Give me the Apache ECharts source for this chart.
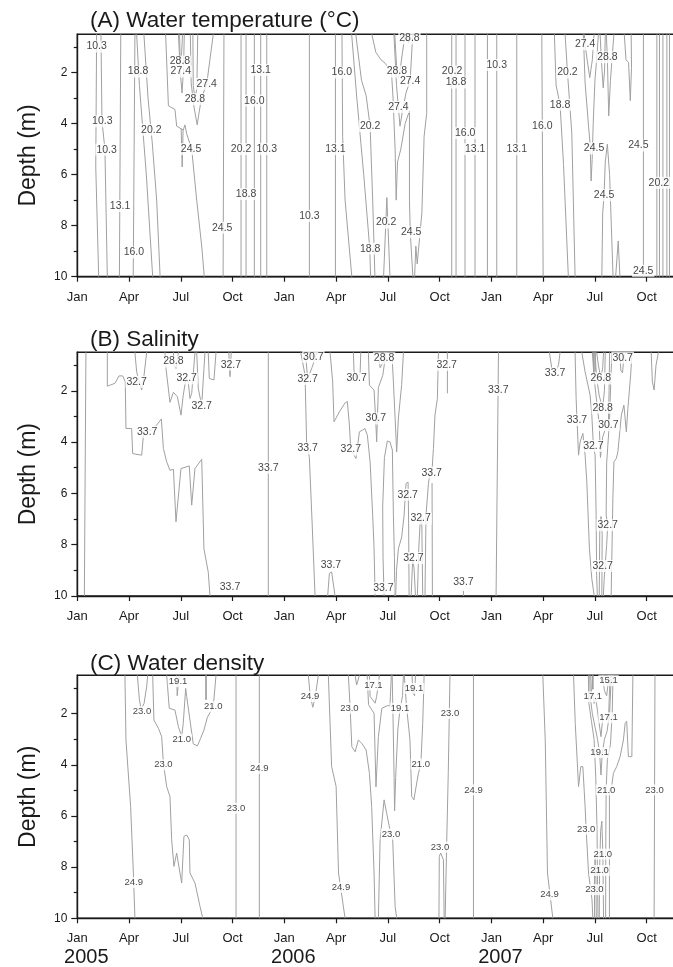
<!DOCTYPE html>
<html>
<head>
<meta charset="utf-8">
<title>Water temperature, salinity and density</title>
<script src="https://cdn.jsdelivr.net/npm/echarts@6/dist/echarts.min.js"></script>
<style>
html, body {margin: 0; padding: 0; background: #fff;}
#chart {width: 673px; height: 967px;}
</style>
</head>
<body>
<div id="chart"></div>
<script>
// x = months since Jan 2005, y = depth (m)
var monthTicks = [0, 3, 6, 9, 12, 15, 18, 21, 24, 27, 30, 33];
var monthNames = ['Jan', 'Apr', 'Jul', 'Oct'];
var depthMajor = [2, 4, 6, 8, 10];
var depthMinor = [1, 3, 5, 7, 9];
var yearTicks = [0, 12, 24];
var years = ['2005', '2006', '2007'];
var panelTitles = ['(A) Water temperature (°C)', '(B) Salinity', '(C) Water density'];

//(A) contour lines, each one a list of [month, depth]
var tempLines = [
    [[1.12,0.5],[1.07,5.7],[1.24,10]],
    [[1.37,0.5],[1.43,3.9],[1.6,5.0],[1.74,10]],
    [[2.52,0.5],[2.44,10]],
    [[3.34,0.5],[3.24,10]],
    [[3.44,0.5],[3.6,2.5],[4.0,6.0],[4.37,10]],
    [[3.86,0.5],[4.1,3.0],[4.35,4.8],[4.6,7.0],[4.8,10]],
    [[5.12,0.5],[5.28,3.3],[5.66,3.45],[5.76,4.1],[6.14,4.25],[6.24,4.05],[6.34,4.4],[6.63,5.0],[6.92,7.0],[7.21,8.8],[7.36,10]],
    [[6.02,4.2],[6.08,5.7],[6.13,4.25]],
    [[5.86,0.5],[5.97,2.0],[6.07,2.8],[6.16,1.8],[6.2,0.5]],
    [[5.93,0.5],[5.96,1.6],[6.05,1.2],[6.1,0.5]],
    [[6.55,0.5],[6.6,2.4],[6.75,3.3],[6.95,4.05],[7.05,3.6],[7.2,3.0],[7.5,2.45],[7.88,0.5]],
    [[6.7,0.5],[6.72,2.5],[6.82,3.05],[6.93,2.6],[6.98,0.5]],
    [[8.5,0.5],[8.45,10]],
    [[9.49,0.5],[9.49,10]],
    [[9.78,0.5],[9.78,10]],
    [[10.26,0.5],[10.26,10]],
    [[10.63,0.5],[10.63,10]],
    [[10.98,0.5],[10.98,10]],
    [[13.45,0.5],[13.45,10]],
    [[14.96,0.5],[14.96,10]],
    [[15.34,0.5],[15.38,4.5],[15.52,7.0],[15.91,10]],
    [[15.9,0.5],[16.2,3.0],[16.6,6.0],[16.95,8.9],[17.0,10]],
    [[16.14,0.5],[16.47,2.3],[16.74,2.9],[16.97,4.1],[17.12,7.0],[17.25,10]],
    [[17.75,10],[17.88,7.9],[17.94,6.9],[18.0,7.9],[18.12,10]],
    [[17.07,0.5],[17.3,1.2],[17.6,1.5],[17.84,1.63],[17.95,1.75],[18.2,1.9],[18.3,3.0],[18.42,5.0],[18.48,7.0],[18.56,5.5],[18.75,5.0],[19.0,4.0],[19.25,3.5],[19.25,7.0],[19.3,8.3],[19.45,10]],
    [[18.35,0.5],[18.5,2.5],[18.61,3.35],[18.7,4.1],[18.85,3.5],[19.05,2.8],[19.29,2.32],[19.4,1.0],[19.45,0.5]],
    [[18.4,0.5],[18.52,1.96],[18.65,2.2],[18.85,1.2],[19.0,0.5]],
    [[19.12,0.5],[19.2,0.85],[19.3,0.5]],
    [[19.55,10],[19.62,8.8],[19.7,9.5],[19.97,7.5],[20.1,4.5],[20.25,3.6],[20.25,0.5]],
    [[21.7,0.5],[21.7,10]],
    [[21.95,0.5],[21.95,10]],
    [[22.47,0.5],[22.47,10]],
    [[23.05,0.5],[23.05,10]],
    [[23.77,0.5],[23.77,10]],
    [[24.31,0.5],[24.31,10]],
    [[25.47,0.5],[25.47,10]],
    [[26.92,0.5],[27.0,10]],
    [[27.65,0.5],[27.75,2.5],[27.98,3.26],[28.18,5.6],[28.46,10]],
    [[28.27,0.5],[28.41,2.0],[28.66,4.37],[28.85,10]],
    [[29.33,0.5],[29.43,2.4],[29.63,4.1],[29.72,4.8],[29.78,6.25],[29.84,5.4],[29.9,4.0],[30.0,2.3],[30.1,1.5],[30.2,0.5]],
    [[29.38,0.5],[29.43,0.9],[29.55,1.5],[29.7,2.2],[29.85,1.5],[29.95,0.5]],
    [[30.3,0.5],[30.38,1.6],[30.48,2.6],[30.56,1.9],[30.6,0.5]],
    [[30.66,0.5],[30.72,1.4],[30.8,3.7],[30.9,2.3],[31.02,1.2],[31.1,0.5]],
    [[31.7,0.5],[31.8,1.5],[31.95,1.6],[32.05,3.1],[32.12,1.8],[32.1,0.5]],
    [[30.4,10],[30.45,7.5],[30.53,6.8],[30.6,5.5],[30.72,4.8],[30.85,6.0],[30.95,8.0],[31.05,10]],
    [[31.2,10],[31.35,8.6],[31.45,10]],
    [[32.81,0.5],[32.81,10]],
    [[33.59,0.5],[33.59,10]],
    [[33.74,0.5],[33.74,10]],
    [[33.94,0.5],[33.94,10]],
    [[34.17,0.5],[34.17,10]],
    [[34.32,0.5],[34.32,10]]
];
var tempLabels = [
    [1.12,0.98,'10.3'],[1.45,3.91,'10.3'],[1.7,5.02,'10.3'],[2.48,7.23,'13.1'],[3.28,9.05,'16.0'],[3.52,1.96,'18.8'],[4.29,4.24,'20.2'],
    [5.95,1.57,'28.8'],[6.0,1.96,'27.4'],[7.5,2.44,'27.4'],[6.82,3.04,'28.8'],[6.59,5.0,'24.5'],[8.4,8.08,'24.5'],
    [9.49,5.0,'20.2'],[9.78,6.76,'18.8'],[10.26,3.1,'16.0'],[10.63,1.9,'13.1'],[10.98,5.0,'10.3'],
    [13.45,7.62,'10.3'],[14.96,5.0,'13.1'],[15.33,2.0,'16.0'],[16.97,4.1,'20.2'],[16.97,8.9,'18.8'],[17.9,7.88,'20.2'],
    [18.52,1.96,'28.8'],[19.29,2.32,'27.4'],[18.61,3.35,'27.4'],[19.25,0.66,'28.8'],[19.35,8.26,'24.5'],
    [21.72,1.96,'20.2'],[21.95,2.39,'18.8'],[22.48,4.37,'16.0'],[23.06,5.0,'13.1'],[24.31,1.7,'10.3'],[25.47,5.0,'13.1'],
    [26.95,4.08,'16.0'],[27.98,3.26,'18.8'],[28.41,2.0,'20.2'],
    [29.43,0.89,'27.4'],[30.72,1.4,'28.8'],[29.95,4.97,'24.5'],[30.53,6.81,'24.5'],[32.52,4.86,'24.5'],[33.7,6.32,'20.2'],[32.8,9.77,'24.5']
];

//(B) salinity contours
var salLines = [
    [[0.5,0.5],[0.41,10]],
    [[1.74,0.5],[1.74,1.82],[2.18,1.71],[2.42,1.42],[2.63,1.42],[2.78,1.65],[2.82,3.47],[3.15,3.47],[3.21,4.45],[3.73,4.51],[3.86,3.53],[4.31,3.53],[4.6,3.34],[4.87,3.1],[4.99,4.25],[5.18,4.77],[5.37,5.1],[5.57,5.06],[5.72,7.11],[6.01,5.03],[6.49,4.93],[6.63,6.46],[6.82,5.03],[7.21,4.67],[7.34,8.16],[7.59,9.07],[7.69,10]],
    [[3.34,0.5],[3.44,1.26],[3.73,1.97],[3.86,1.45],[4.02,0.5]],
    [[5.08,0.5],[5.14,1.13],[5.37,2.45],[5.57,2.06],[5.8,2.23],[6.01,2.95],[6.14,2.17],[6.3,1.52],[6.43,1.65],[6.53,2.3],[6.63,2.1],[6.82,0.5]],
    [[5.57,0.5],[5.6,1.0],[5.72,1.13],[5.86,0.5]],
    [[6.92,0.5],[7.01,1.9],[7.21,2.58],[7.34,1.13],[7.4,0.5]],
    [[7.59,0.5],[7.65,1.52],[7.92,1.58],[8.04,0.5]],
    [[8.78,0.5],[8.85,1.45],[8.92,0.5]],
    [[11.07,0.5],[11.07,10]],
    [[12.95,0.5],[13.2,1.39],[13.29,4.0],[13.45,4.6],[13.6,7.0],[13.78,10]],
    [[13.22,0.5],[13.35,1.54],[13.6,1.1],[13.9,0.5]],
    [[13.55,0.5],[13.68,0.75],[13.8,0.5]],
    [[14.51,10],[14.61,9.12],[14.74,9.06],[14.94,10]],
    [[14.65,0.5],[14.8,1.65],[14.88,3.21],[15.19,2.82],[15.52,2.47],[15.65,2.42],[15.77,3.34],[15.85,4.29],[16.15,4.64],[16.35,3.6],[16.54,3.53],[16.67,3.47],[16.81,3.73],[16.97,4.77],[17.12,6.85],[17.2,8.15],[17.26,10]],
    [[16.0,0.5],[16.04,1.25],[16.19,1.58],[16.39,1.32],[16.43,0.5]],
    [[16.87,0.5],[16.93,1.78],[17.2,1.97],[17.29,3.08],[17.35,3.99],[17.45,1.87],[17.7,1.41],[17.9,0.5]],
    [[17.45,0.5],[17.55,1.1],[17.72,0.9],[17.82,0.5]],
    [[17.78,10],[17.72,8.5],[17.7,6.5],[17.8,4.6],[17.97,3.96],[18.12,3.99],[18.26,4.31],[18.32,6.85],[18.38,8.5],[18.4,10]],
    [[18.23,0.5],[18.32,1.65],[18.51,4.38],[18.61,3.06],[18.8,1.76],[18.9,0.5]],
    [[18.45,10],[18.5,9.0],[18.61,8.16],[18.8,7.7],[18.94,6.85],[19.05,5.62],[19.17,5.56],[19.2,7.0],[19.23,10]],
    [[19.35,10],[19.44,8.52],[19.52,8.94],[19.6,10]],
    [[19.71,10],[19.79,8.16],[19.87,7.11],[19.96,6.85],[20.02,10]],
    [[20.15,10],[20.21,6.85],[20.35,5.62],[20.45,5.16],[20.54,5.29],[20.64,4.25],[20.73,2.95],[20.87,2.3],[20.93,0.5]],
    [[20.56,5.6],[20.58,10]],
    [[21.45,0.5],[21.45,2.1]],
    [[22.38,9.8],[22.38,10]],
    [[24.41,0.5],[24.27,10]],
    [[27.36,0.5],[27.5,1.13],[27.69,1.32],[27.89,0.99],[27.98,0.5]],
    [[28.85,0.5],[28.91,2.3],[28.95,2.95],[29.05,4.51],[29.14,4.0],[29.3,3.66],[29.43,4.51],[29.53,5.55],[29.68,8.16],[29.82,9.33],[29.96,10]],
    [[29.24,0.5],[29.43,1.26],[29.72,2.17],[29.82,2.95],[29.91,4.15],[30.01,4.51],[30.07,6.85],[30.1,9.2],[30.14,10]],
    [[30.49,10],[30.53,9.4],[30.68,8.0],[30.74,7.24],[30.65,6.85],[30.68,4.82],[30.84,3.21],[30.88,2.43],[30.98,0.5]],
    [[30.25,10],[30.28,7.5],[30.35,6.9],[30.42,7.6],[30.4,10]],
    [[29.85,0.5],[29.95,1.5],[30.1,2.4],[30.25,3.3],[30.32,4.6],[30.45,3.8],[30.6,3.5],[30.78,3.34],[30.82,2.0],[30.85,0.5]],
    [[30.0,0.5],[30.1,1.5],[30.25,2.2],[30.45,2.66],[30.55,2.0],[30.6,0.5]],
    [[30.1,0.5],[30.2,1.0],[30.34,1.52],[30.45,1.1],[30.5,0.5]],
    [[29.92,0.5],[29.92,1.3]],
    [[29.96,0.5],[29.96,1.3]],
    [[30.02,0.5],[30.02,1.25]],
    [[30.94,10],[31.04,6.2],[31.1,4.77],[31.24,4.64],[31.33,4.38],[31.53,2.95],[31.68,2.56],[31.82,3.6],[31.91,2.69],[32.07,1.39],[32.15,0.5]],
    [[31.45,0.5],[31.5,1.2],[31.6,1.3],[31.7,0.5]],
    [[33.26,0.5],[33.33,1.65],[33.43,1.97],[33.54,1.0],[33.68,0.5]]
];
var salLabels = [
    [3.44,1.65,'32.7'],[4.05,3.6,'33.7'],[5.57,0.86,'28.8'],[6.34,1.52,'32.7'],[7.21,2.58,'32.7'],[8.9,0.98,'32.7'],[8.85,9.65,'33.7'],
    [11.07,5.0,'33.7'],[13.68,0.67,'30.7'],[13.35,1.54,'32.7'],[13.35,4.25,'33.7'],[14.7,8.8,'33.7'],[15.85,4.29,'32.7'],
    [16.19,1.52,'30.7'],[17.78,0.73,'28.8'],[17.3,3.08,'30.7'],[17.74,9.69,'33.7'],[19.15,6.05,'32.7'],[19.9,6.98,'32.7'],
    [19.48,8.52,'32.7'],[20.54,5.19,'33.7'],[21.41,0.99,'32.7'],
    [22.38,9.46,'33.7'],[24.4,1.97,'33.7'],[27.69,1.32,'33.7'],[28.96,3.14,'33.7'],[29.91,4.15,'32.7'],[30.34,1.52,'26.8'],
    [30.45,2.66,'28.8'],[30.78,3.34,'30.7'],[31.61,0.71,'30.7'],[30.74,7.24,'32.7'],[30.45,8.83,'32.7']
];

//(C) density contours
var denLines = [
    [[2.76,0.5],[2.82,3.03],[3.09,5.63],[3.25,8.23],[3.34,10]],
    [[3.48,0.5],[3.6,1.46],[3.7,1.82],[3.87,1.6],[4.02,0.95],[4.08,0.5]],
    [[4.37,0.5],[4.44,2.25],[4.7,2.57],[4.89,2.9],[4.99,3.94],[5.18,4.85],[5.37,5.24],[5.47,6.93],[5.6,7.97],[5.76,7.45],[5.95,8.23],[6.05,8.62],[6.18,6.8],[6.34,6.74],[6.49,6.93],[6.53,8.23],[6.82,8.62],[7.11,9.53],[7.27,10]],
    [[5.18,0.5],[5.33,1.79],[5.66,1.86],[5.86,2.51],[6.05,2.9],[6.14,2.38],[6.28,1.01],[6.34,1.33],[6.53,2.25],[6.72,3.18],[6.96,3.26],[7.15,2.96],[7.34,2.64],[7.54,2.14],[7.88,1.73],[8.04,0.5]],
    [[5.76,0.5],[5.79,1.3],[5.86,1.32],[5.9,0.5]],
    [[7.44,0.5],[7.44,1.46]],
    [[7.48,0.5],[7.48,1.46]],
    [[9.2,0.5],[9.2,10]],
    [[10.55,0.5],[10.55,10]],
    [[13.39,0.5],[13.5,1.3],[13.65,1.75],[13.8,1.3],[13.97,0.5]],
    [[14.55,0.5],[14.65,2.38],[14.74,4.07],[15.0,4.85],[15.14,8.23],[15.52,10]],
    [[15.71,0.5],[15.81,1.73],[15.91,3.29],[16.1,3.49],[16.29,3.03],[16.49,3.16],[16.74,3.42],[16.93,4.33],[17.06,5.63],[17.2,8.23],[17.26,10]],
    [[16.1,0.5],[16.19,0.88],[16.35,0.5]],
    [[16.93,0.5],[16.97,1.33],[17.12,1.46],[17.26,1.59],[17.35,1.33],[17.51,0.5]],
    [[16.8,0.5],[16.88,1.65],[17.2,1.99],[17.31,4.86],[17.45,2.9],[17.65,1.79],[18.0,1.68],[18.12,1.7],[18.2,0.5]],
    [[17.45,10],[17.55,6.93],[17.78,5.37],[17.93,5.89],[18.12,6.54],[18.28,6.93],[18.42,9.53],[18.51,10]],
    [[18.25,0.5],[18.3,2.2],[18.36,4.5],[18.39,5.8],[18.45,4.5],[18.58,2.6],[18.7,1.85],[18.85,1.3],[18.9,0.5]],
    [[18.95,0.5],[19.08,1.72],[19.28,3.02],[19.38,5.24],[19.51,5.37],[19.57,5.11],[19.77,4.33],[19.91,3.97],[20.02,2.38],[20.1,0.5]],
    [[19.4,0.5],[19.45,1.2],[19.55,1.3],[19.6,0.5]],
    [[21.6,0.5],[21.5,4.3],[21.41,7.0],[21.32,10]],
    [[20.96,10],[20.98,7.58],[21.06,7.45],[21.22,7.71],[21.26,10]],
    [[22.96,0.5],[22.96,10]],
    [[26.98,0.5],[27.12,3.03],[27.25,8.23],[27.56,10]],
    [[28.76,0.5],[28.86,2.38],[29.05,4.85],[29.18,4.07],[29.3,4.07],[29.43,5.63],[29.49,6.52],[29.63,8.23],[29.83,9.27],[29.88,10]],
    [[29.62,0.5],[29.65,1.6],[29.8,2.3],[29.95,3.0],[30.05,4.5],[30.12,6.5],[30.15,8.5],[30.18,10]],
    [[30.62,10],[30.63,7.0],[30.65,4.98],[30.72,3.8],[30.9,3.2],[31.0,2.0],[31.05,0.5]],
    [[29.98,10],[29.97,8.5],[30.01,7.6],[30.06,8.5],[30.08,10]],
    [[30.25,10],[30.27,8.13],[30.33,6.6],[30.4,6.2],[30.46,7.49],[30.5,10]],
    [[29.7,0.5],[29.72,1.3],[29.85,2.0],[30.0,2.5],[30.15,3.0],[30.27,3.52],[30.35,4.4],[30.42,3.6],[30.55,3.0],[30.7,2.7],[30.85,2.0],[30.95,0.5]],
    [[29.76,0.5],[29.8,1.2],[29.88,1.34],[29.95,1.6],[30.05,1.4],[30.15,1.9],[30.25,2.4],[30.35,2.9],[30.45,2.2],[30.6,2.0],[30.79,2.16],[30.84,1.2],[30.88,0.5]],
    [[30.45,0.5],[30.55,1.1],[30.68,1.3],[30.75,0.9],[30.8,0.5]],
    [[29.86,0.5],[29.86,1.05]],
    [[29.9,0.5],[29.9,1.05]],
    [[30.84,10],[30.84,5.0],[30.97,4.86],[31.07,4.33],[31.26,4.07],[31.46,3.68],[31.65,3.03],[31.75,2.38],[31.84,2.3],[31.94,3.68],[32.14,3.68],[32.2,0.5]],
    [[33.48,0.5],[33.43,10]]
];
var denLabels = [
    [3.27,8.6,'24.9'],[3.75,1.92,'23.0'],[4.99,4.0,'23.0'],[6.05,3.0,'21.0'],[7.88,1.73,'21.0'],[5.84,0.75,'19.1'],[9.2,5.7,'23.0'],[10.55,4.14,'24.9'],
    [13.49,1.33,'24.9'],[15.28,8.79,'24.9'],[15.77,1.79,'23.0'],[17.16,0.88,'17.1'],[18.18,6.71,'23.0'],[18.7,1.79,'19.1'],
    [19.91,3.97,'21.0'],[19.51,1.01,'19.1'],[21.6,1.99,'23.0'],[21.02,7.22,'23.0'],
    [22.96,4.98,'24.9'],[27.37,9.08,'24.9'],[29.49,6.52,'23.0'],[29.97,8.88,'23.0'],[29.88,1.34,'17.1'],[30.79,2.16,'17.1'],
    [30.79,0.71,'15.1'],[30.27,3.52,'19.1'],[30.65,4.98,'21.0'],[30.46,7.49,'21.0'],[30.27,8.13,'21.0'],[33.45,4.98,'23.0']
];

var font = '"Liberation Sans", Arial, sans-serif';
var ink = '#1a1a1a';
var xMax = 34.6;

var panels = [
    {title: panelTitles[0], lines: tempLines, labels: tempLabels, top: 34.3, height: 242.4, titleTop: 4, labelSize: 10.5},
    {title: panelTitles[1], lines: salLines, labels: salLabels, top: 352.3, height: 243.7, titleTop: 323, labelSize: 10.5},
    {title: panelTitles[2], lines: denLines, labels: denLabels, top: 675.3, height: 243, titleTop: 647, labelSize: 9.5}
];

var chart = echarts.init(document.getElementById('chart'));
var option = {
    animation: false,
    backgroundColor: '#fff',
    title: [], grid: [], xAxis: [], yAxis: [], series: []
};

panels.forEach(function (p, i) {
    option.title.push({
        text: p.title, left: 85, top: p.titleTop,
        textStyle: {fontSize: 22.5, fontWeight: 'normal', color: ink, fontFamily: font}
    });
    option.grid.push({
        left: 77.3, top: p.top, width: 597, height: p.height,
        show: true, borderColor: ink, borderWidth: 1.4, backgroundColor: 'transparent',
        outerBoundsMode: 'none'
    });
    option.xAxis.push({
        gridIndex: i, type: 'value', position: 'bottom', min: 0, max: xMax,
        axisLine: {onZero: false, lineStyle: {color: ink, width: 1.4}},
        axisTick: {customValues: monthTicks, length: 5, lineStyle: {color: ink, width: 1.2}},
        axisLabel: {
            customValues: monthTicks, margin: 14, fontSize: 13, color: ink, fontFamily: font,
            formatter: function (v) { return monthNames[Math.round(v / 3) % 4]; }
        },
        splitLine: {show: false}
    });
    option.yAxis.push({
        gridIndex: i, type: 'value', position: 'left', inverse: true, min: 0.5, max: 10,
        name: 'Depth (m)', nameLocation: 'middle', nameGap: 37, nameRotate: 90,
        nameTextStyle: {fontSize: 23, color: ink, fontFamily: font},
        axisLine: {onZero: false, lineStyle: {color: ink, width: 1.4}},
        axisTick: {customValues: depthMajor, length: 6, lineStyle: {color: ink, width: 1.2}},
        axisLabel: {customValues: depthMajor, margin: 10, fontSize: 12, color: ink, fontFamily: font},
        splitLine: {show: false}
    });

    // contour lines
    p.lines.forEach(function (line) {
        option.series.push({
            type: 'line', xAxisIndex: i, yAxisIndex: i, data: line,
            symbol: 'none', silent: true, z: 2,
            lineStyle: {color: '#a0a0a0', width: 1}
        });
    });
    // contour labels
    option.series.push({
        type: 'scatter', xAxisIndex: i, yAxisIndex: i, symbolSize: 0, silent: true, z: 5,
        data: p.labels.map(function (l) { return {value: [l[0], l[1]], name: l[2]}; }),
        label: {
            show: true, position: 'inside', formatter: '{b}',
            fontSize: p.labelSize, color: '#111', fontFamily: font,
            backgroundColor: '#fff', padding: [1, 1, 0, 1]
        }
    });
});

// short ticks at odd depths
panels.forEach(function (p, i) {
    option.yAxis.push({
        gridIndex: i, type: 'value', position: 'left', inverse: true, min: 0.5, max: 10,
        axisLine: {show: false},
        axisTick: {customValues: depthMinor, length: 3.5, lineStyle: {color: ink, width: 1.2}},
        axisLabel: {show: false},
        splitLine: {show: false}
    });
});

// year labels under the last panel
option.xAxis.push({
    gridIndex: 2, type: 'value', position: 'bottom', min: 0, max: xMax,
    axisLine: {show: false},
    axisTick: {show: false},
    axisLabel: {
        customValues: yearTicks, margin: 29, fontSize: 20, color: ink, fontFamily: font,
        padding: [0, 0, 0, 18],
        formatter: function (v) { return years[Math.round(v / 12)]; }
    },
    splitLine: {show: false}
});

chart.setOption(option);
</script>
</body>
</html>
